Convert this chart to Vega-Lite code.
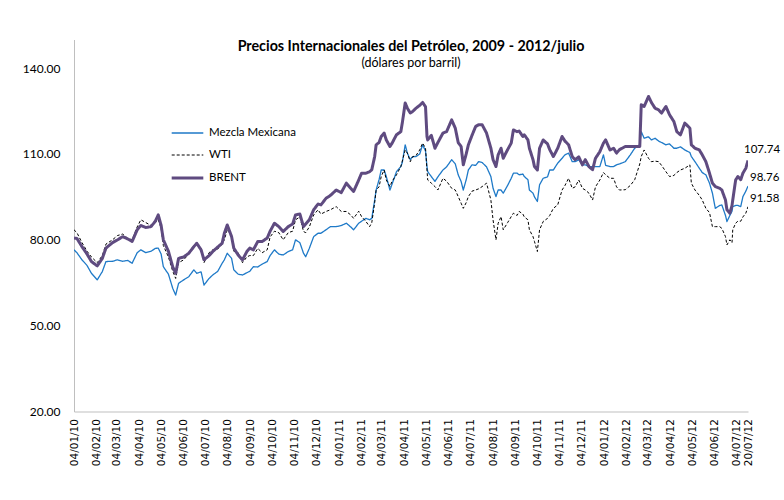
{
"$schema":"https://vega.github.io/schema/vega-lite/v6.json",
"width":674,"height":372,
"autosize":{"type":"none"},
"padding":{"left":74,"top":39.5,"right":36,"bottom":88.5},
"background":"white",
"config":{"view":{"stroke":null},"font":"Lato"},
"title":{"text":"Precios Internacionales del Petróleo, 2009 - 2012/julio","subtitle":"(dólares por barril)","font":"Lato","subtitleFont":"Lato","fontSize":14.3,"fontWeight":"bold","subtitleFontSize":12.5,"anchor":"middle","offset":-29.5,"subtitlePadding":2,"color":"black","subtitleColor":"black"},
"data":{"values":[
{"fecha":"2010-01-04","Mezcla Mexicana":76.5,"WTI":83.5,"BRENT":80.6},
{"fecha":"2010-01-08","Mezcla Mexicana":75.5,"WTI":82.5,"BRENT":80.5},
{"fecha":"2010-01-15","Mezcla Mexicana":73,"WTI":79,"BRENT":77.6},
{"fecha":"2010-01-22","Mezcla Mexicana":71,"WTI":76,"BRENT":75},
{"fecha":"2010-01-28","Mezcla Mexicana":68.3,"WTI":74,"BRENT":72.4},
{"fecha":"2010-02-05","Mezcla Mexicana":66,"WTI":72,"BRENT":70.9},
{"fecha":"2010-02-12","Mezcla Mexicana":68.9,"WTI":74.5,"BRENT":73.5},
{"fecha":"2010-02-17","Mezcla Mexicana":72.4,"WTI":78.5,"BRENT":77.1},
{"fecha":"2010-02-26","Mezcla Mexicana":72.5,"WTI":80,"BRENT":79},
{"fecha":"2010-03-05","Mezcla Mexicana":73,"WTI":81.5,"BRENT":80},
{"fecha":"2010-03-12","Mezcla Mexicana":72.5,"WTI":82,"BRENT":81.1},
{"fecha":"2010-03-19","Mezcla Mexicana":72.8,"WTI":80.5,"BRENT":80.3},
{"fecha":"2010-03-25","Mezcla Mexicana":71.8,"WTI":80,"BRENT":79.4},
{"fecha":"2010-04-01","Mezcla Mexicana":75.5,"WTI":84.5,"BRENT":83.5},
{"fecha":"2010-04-06","Mezcla Mexicana":76.5,"WTI":87,"BRENT":85},
{"fecha":"2010-04-13","Mezcla Mexicana":75.5,"WTI":86,"BRENT":84.3},
{"fecha":"2010-04-20","Mezcla Mexicana":76,"WTI":85,"BRENT":84.6},
{"fecha":"2010-04-26","Mezcla Mexicana":77,"WTI":86,"BRENT":86.5},
{"fecha":"2010-04-30","Mezcla Mexicana":77.1,"WTI":87,"BRENT":88.7},
{"fecha":"2010-05-04","Mezcla Mexicana":75,"WTI":84,"BRENT":85},
{"fecha":"2010-05-07","Mezcla Mexicana":70.6,"WTI":78,"BRENT":80},
{"fecha":"2010-05-14","Mezcla Mexicana":68,"WTI":74,"BRENT":76},
{"fecha":"2010-05-20","Mezcla Mexicana":63,"WTI":69,"BRENT":70.5},
{"fecha":"2010-05-24","Mezcla Mexicana":60.7,"WTI":66.5,"BRENT":68.3},
{"fecha":"2010-05-28","Mezcla Mexicana":64.8,"WTI":72,"BRENT":73.5},
{"fecha":"2010-06-04","Mezcla Mexicana":66,"WTI":73,"BRENT":74},
{"fecha":"2010-06-11","Mezcla Mexicana":67.1,"WTI":75,"BRENT":75.3},
{"fecha":"2010-06-18","Mezcla Mexicana":69.5,"WTI":78,"BRENT":77.6},
{"fecha":"2010-06-22","Mezcla Mexicana":68.3,"WTI":78.5,"BRENT":78.8},
{"fecha":"2010-06-28","Mezcla Mexicana":68.8,"WTI":77,"BRENT":76.5},
{"fecha":"2010-07-02","Mezcla Mexicana":64.2,"WTI":72,"BRENT":73},
{"fecha":"2010-07-09","Mezcla Mexicana":66.5,"WTI":75.5,"BRENT":74.5},
{"fecha":"2010-07-14","Mezcla Mexicana":67.7,"WTI":76.5,"BRENT":75.9},
{"fecha":"2010-07-21","Mezcla Mexicana":69,"WTI":76.8,"BRENT":77.5},
{"fecha":"2010-07-27","Mezcla Mexicana":71.8,"WTI":78.5,"BRENT":78.8},
{"fecha":"2010-07-30","Mezcla Mexicana":73,"WTI":80,"BRENT":82.3},
{"fecha":"2010-08-03","Mezcla Mexicana":75.3,"WTI":83.5,"BRENT":85.2},
{"fecha":"2010-08-09","Mezcla Mexicana":73.5,"WTI":81.5,"BRENT":81.1},
{"fecha":"2010-08-12","Mezcla Mexicana":69.5,"WTI":76,"BRENT":77.1},
{"fecha":"2010-08-18","Mezcla Mexicana":68,"WTI":75.5,"BRENT":74.7},
{"fecha":"2010-08-24","Mezcla Mexicana":67.7,"WTI":72,"BRENT":73},
{"fecha":"2010-08-30","Mezcla Mexicana":68.5,"WTI":74,"BRENT":75.9},
{"fecha":"2010-09-03","Mezcla Mexicana":69,"WTI":74.5,"BRENT":77.1},
{"fecha":"2010-09-08","Mezcla Mexicana":70.6,"WTI":74.5,"BRENT":76.5},
{"fecha":"2010-09-14","Mezcla Mexicana":70.5,"WTI":77,"BRENT":79.4},
{"fecha":"2010-09-20","Mezcla Mexicana":71.5,"WTI":75.5,"BRENT":79.4},
{"fecha":"2010-09-27","Mezcla Mexicana":72.4,"WTI":76.5,"BRENT":80.6},
{"fecha":"2010-10-01","Mezcla Mexicana":74.5,"WTI":81,"BRENT":83},
{"fecha":"2010-10-07","Mezcla Mexicana":76.5,"WTI":83,"BRENT":85.8},
{"fecha":"2010-10-13","Mezcla Mexicana":75,"WTI":82.5,"BRENT":84.6},
{"fecha":"2010-10-19","Mezcla Mexicana":74.7,"WTI":80,"BRENT":82.9},
{"fecha":"2010-10-26","Mezcla Mexicana":75.9,"WTI":82.5,"BRENT":84.6},
{"fecha":"2010-11-01","Mezcla Mexicana":76.5,"WTI":83,"BRENT":85.5},
{"fecha":"2010-11-05","Mezcla Mexicana":80,"WTI":87,"BRENT":88.7},
{"fecha":"2010-11-11","Mezcla Mexicana":79,"WTI":88,"BRENT":89},
{"fecha":"2010-11-16","Mezcla Mexicana":75.3,"WTI":82.9,"BRENT":84.6},
{"fecha":"2010-11-19","Mezcla Mexicana":74.1,"WTI":82.5,"BRENT":85.5},
{"fecha":"2010-11-24","Mezcla Mexicana":77,"WTI":84.5,"BRENT":87},
{"fecha":"2010-11-30","Mezcla Mexicana":81.1,"WTI":88.7,"BRENT":90.5},
{"fecha":"2010-12-06","Mezcla Mexicana":82.3,"WTI":90.5,"BRENT":92.5},
{"fecha":"2010-12-10","Mezcla Mexicana":82.3,"WTI":89,"BRENT":92.2},
{"fecha":"2010-12-17","Mezcla Mexicana":83.5,"WTI":89.9,"BRENT":94.5},
{"fecha":"2010-12-23","Mezcla Mexicana":84.6,"WTI":90.5,"BRENT":95.5},
{"fecha":"2010-12-31","Mezcla Mexicana":84.6,"WTI":91.6,"BRENT":97.4},
{"fecha":"2011-01-07","Mezcla Mexicana":85,"WTI":89.9,"BRENT":96.5},
{"fecha":"2011-01-14","Mezcla Mexicana":85.8,"WTI":89.9,"BRENT":99.8},
{"fecha":"2011-01-20","Mezcla Mexicana":84.5,"WTI":88.7,"BRENT":98},
{"fecha":"2011-01-24","Mezcla Mexicana":83.5,"WTI":87.5,"BRENT":96.9},
{"fecha":"2011-01-31","Mezcla Mexicana":85.8,"WTI":90,"BRENT":100.9},
{"fecha":"2011-02-04","Mezcla Mexicana":86.5,"WTI":88.1,"BRENT":103.3},
{"fecha":"2011-02-10","Mezcla Mexicana":87.5,"WTI":86.4,"BRENT":103.3},
{"fecha":"2011-02-15","Mezcla Mexicana":87,"WTI":84.6,"BRENT":103.8},
{"fecha":"2011-02-18","Mezcla Mexicana":87.5,"WTI":86,"BRENT":104.5},
{"fecha":"2011-02-22","Mezcla Mexicana":93.9,"WTI":93,"BRENT":109.1},
{"fecha":"2011-02-24","Mezcla Mexicana":97.4,"WTI":97.4,"BRENT":113.2},
{"fecha":"2011-02-28","Mezcla Mexicana":101,"WTI":98.5,"BRENT":114},
{"fecha":"2011-03-03","Mezcla Mexicana":104.4,"WTI":102.1,"BRENT":116.1},
{"fecha":"2011-03-07","Mezcla Mexicana":104.4,"WTI":104.4,"BRENT":117.3},
{"fecha":"2011-03-10","Mezcla Mexicana":102.1,"WTI":100.9,"BRENT":114.9},
{"fecha":"2011-03-15","Mezcla Mexicana":97.4,"WTI":98.6,"BRENT":112.6},
{"fecha":"2011-03-18","Mezcla Mexicana":99.5,"WTI":100.5,"BRENT":113.8},
{"fecha":"2011-03-24","Mezcla Mexicana":103.8,"WTI":102.7,"BRENT":116.7},
{"fecha":"2011-03-30","Mezcla Mexicana":105.6,"WTI":105.6,"BRENT":117.8},
{"fecha":"2011-04-01","Mezcla Mexicana":107,"WTI":107.5,"BRENT":120.8},
{"fecha":"2011-04-05","Mezcla Mexicana":113.2,"WTI":111.4,"BRENT":127.8},
{"fecha":"2011-04-08","Mezcla Mexicana":110.3,"WTI":110.3,"BRENT":126},
{"fecha":"2011-04-12","Mezcla Mexicana":108,"WTI":107.3,"BRENT":124.3},
{"fecha":"2011-04-15","Mezcla Mexicana":109,"WTI":109,"BRENT":124.8},
{"fecha":"2011-04-20","Mezcla Mexicana":109.1,"WTI":109.5,"BRENT":126},
{"fecha":"2011-04-25","Mezcla Mexicana":110,"WTI":111.4,"BRENT":127},
{"fecha":"2011-04-29","Mezcla Mexicana":113.2,"WTI":113.8,"BRENT":128},
{"fecha":"2011-05-03","Mezcla Mexicana":111,"WTI":112,"BRENT":126.5},
{"fecha":"2011-05-05","Mezcla Mexicana":105.6,"WTI":104.4,"BRENT":116.1},
{"fecha":"2011-05-06","Mezcla Mexicana":103.8,"WTI":100.9,"BRENT":114.9},
{"fecha":"2011-05-11","Mezcla Mexicana":102.1,"WTI":99.8,"BRENT":116.5},
{"fecha":"2011-05-16","Mezcla Mexicana":100.4,"WTI":98.6,"BRENT":112},
{"fecha":"2011-05-20","Mezcla Mexicana":102,"WTI":97.4,"BRENT":114},
{"fecha":"2011-05-27","Mezcla Mexicana":104.4,"WTI":101.5,"BRENT":117.3},
{"fecha":"2011-06-01","Mezcla Mexicana":105.5,"WTI":100.5,"BRENT":117.8},
{"fecha":"2011-06-08","Mezcla Mexicana":108,"WTI":98,"BRENT":121.9},
{"fecha":"2011-06-13","Mezcla Mexicana":106.5,"WTI":97.4,"BRENT":119},
{"fecha":"2011-06-17","Mezcla Mexicana":102.7,"WTI":95.1,"BRENT":114},
{"fecha":"2011-06-21","Mezcla Mexicana":100.4,"WTI":92.8,"BRENT":112.6},
{"fecha":"2011-06-24","Mezcla Mexicana":97.4,"WTI":91,"BRENT":106.2},
{"fecha":"2011-06-28","Mezcla Mexicana":101,"WTI":93,"BRENT":110},
{"fecha":"2011-07-01","Mezcla Mexicana":104.4,"WTI":95.1,"BRENT":113.2},
{"fecha":"2011-07-06","Mezcla Mexicana":106.2,"WTI":97,"BRENT":116.5},
{"fecha":"2011-07-11","Mezcla Mexicana":106,"WTI":97.4,"BRENT":119.6},
{"fecha":"2011-07-15","Mezcla Mexicana":107.3,"WTI":97.8,"BRENT":120.2},
{"fecha":"2011-07-20","Mezcla Mexicana":107,"WTI":98.6,"BRENT":120.2},
{"fecha":"2011-07-26","Mezcla Mexicana":105.5,"WTI":99.8,"BRENT":117.3},
{"fecha":"2011-08-01","Mezcla Mexicana":102.1,"WTI":93.9,"BRENT":112},
{"fecha":"2011-08-04","Mezcla Mexicana":98,"WTI":86.9,"BRENT":108},
{"fecha":"2011-08-08","Mezcla Mexicana":95.1,"WTI":80,"BRENT":105.6},
{"fecha":"2011-08-11","Mezcla Mexicana":97.4,"WTI":85.8,"BRENT":109.7},
{"fecha":"2011-08-15","Mezcla Mexicana":97.4,"WTI":88.1,"BRENT":112},
{"fecha":"2011-08-18","Mezcla Mexicana":96.3,"WTI":83.5,"BRENT":108.5},
{"fecha":"2011-08-24","Mezcla Mexicana":99,"WTI":86,"BRENT":111.5},
{"fecha":"2011-08-29","Mezcla Mexicana":101.5,"WTI":88.1,"BRENT":113.8},
{"fecha":"2011-09-01","Mezcla Mexicana":103.3,"WTI":89.3,"BRENT":118.4},
{"fecha":"2011-09-06","Mezcla Mexicana":103.3,"WTI":88.5,"BRENT":117.8},
{"fecha":"2011-09-09","Mezcla Mexicana":102.7,"WTI":89.9,"BRENT":118},
{"fecha":"2011-09-14","Mezcla Mexicana":103,"WTI":89,"BRENT":116.1},
{"fecha":"2011-09-16","Mezcla Mexicana":102.1,"WTI":88,"BRENT":116.7},
{"fecha":"2011-09-21","Mezcla Mexicana":101,"WTI":87,"BRENT":114.9},
{"fecha":"2011-09-23","Mezcla Mexicana":97.4,"WTI":83.5,"BRENT":112},
{"fecha":"2011-09-28","Mezcla Mexicana":96.3,"WTI":81.1,"BRENT":108},
{"fecha":"2011-09-30","Mezcla Mexicana":95,"WTI":79.4,"BRENT":105.6},
{"fecha":"2011-10-04","Mezcla Mexicana":93.4,"WTI":75.9,"BRENT":104.4},
{"fecha":"2011-10-07","Mezcla Mexicana":99.2,"WTI":83.5,"BRENT":112},
{"fecha":"2011-10-12","Mezcla Mexicana":101.5,"WTI":86.4,"BRENT":114.9},
{"fecha":"2011-10-18","Mezcla Mexicana":102,"WTI":87.5,"BRENT":113.5},
{"fecha":"2011-10-21","Mezcla Mexicana":104.4,"WTI":88.5,"BRENT":111.5},
{"fecha":"2011-10-26","Mezcla Mexicana":104.4,"WTI":91,"BRENT":109.1},
{"fecha":"2011-11-01","Mezcla Mexicana":106.8,"WTI":92.2,"BRENT":112},
{"fecha":"2011-11-07","Mezcla Mexicana":108.5,"WTI":97.4,"BRENT":116.1},
{"fecha":"2011-11-11","Mezcla Mexicana":109.7,"WTI":99,"BRENT":114.5},
{"fecha":"2011-11-16","Mezcla Mexicana":110.3,"WTI":101.5,"BRENT":113.2},
{"fecha":"2011-11-21","Mezcla Mexicana":107.3,"WTI":98,"BRENT":109.1},
{"fecha":"2011-11-25","Mezcla Mexicana":107.3,"WTI":98.5,"BRENT":108},
{"fecha":"2011-11-30","Mezcla Mexicana":108,"WTI":100.9,"BRENT":109},
{"fecha":"2011-12-05","Mezcla Mexicana":106.2,"WTI":98,"BRENT":106.2},
{"fecha":"2011-12-09","Mezcla Mexicana":106.2,"WTI":97.4,"BRENT":108},
{"fecha":"2011-12-14","Mezcla Mexicana":105.6,"WTI":96.3,"BRENT":105.6},
{"fecha":"2011-12-19","Mezcla Mexicana":105.6,"WTI":93.9,"BRENT":104.5},
{"fecha":"2011-12-23","Mezcla Mexicana":105.6,"WTI":98.5,"BRENT":108.5},
{"fecha":"2011-12-29","Mezcla Mexicana":105.6,"WTI":100.9,"BRENT":110.8},
{"fecha":"2012-01-03","Mezcla Mexicana":109.7,"WTI":103.5,"BRENT":113.8},
{"fecha":"2012-01-06","Mezcla Mexicana":106,"WTI":102.7,"BRENT":114.9},
{"fecha":"2012-01-12","Mezcla Mexicana":105.6,"WTI":101.5,"BRENT":111.4},
{"fecha":"2012-01-17","Mezcla Mexicana":105.6,"WTI":101.5,"BRENT":112},
{"fecha":"2012-01-21","Mezcla Mexicana":106.2,"WTI":98.5,"BRENT":110.3},
{"fecha":"2012-01-25","Mezcla Mexicana":106.5,"WTI":97.4,"BRENT":111.5},
{"fecha":"2012-02-02","Mezcla Mexicana":107.3,"WTI":97.5,"BRENT":112.6},
{"fecha":"2012-02-09","Mezcla Mexicana":109.7,"WTI":99,"BRENT":112.6},
{"fecha":"2012-02-15","Mezcla Mexicana":112,"WTI":101,"BRENT":112.6},
{"fecha":"2012-02-22","Mezcla Mexicana":113.2,"WTI":106.5,"BRENT":112.6},
{"fecha":"2012-02-24","Mezcla Mexicana":117.8,"WTI":109.1,"BRENT":127.2},
{"fecha":"2012-02-28","Mezcla Mexicana":115.5,"WTI":111.4,"BRENT":126.6},
{"fecha":"2012-03-05","Mezcla Mexicana":116,"WTI":108.5,"BRENT":130.1},
{"fecha":"2012-03-09","Mezcla Mexicana":114.9,"WTI":107.3,"BRENT":128},
{"fecha":"2012-03-14","Mezcla Mexicana":115.5,"WTI":107.5,"BRENT":126},
{"fecha":"2012-03-19","Mezcla Mexicana":114.5,"WTI":107.3,"BRENT":125.4},
{"fecha":"2012-03-23","Mezcla Mexicana":114,"WTI":106,"BRENT":124.3},
{"fecha":"2012-03-29","Mezcla Mexicana":113.2,"WTI":103.8,"BRENT":126.6},
{"fecha":"2012-04-03","Mezcla Mexicana":113.5,"WTI":102.1,"BRENT":123.7},
{"fecha":"2012-04-09","Mezcla Mexicana":112,"WTI":102.5,"BRENT":121.3},
{"fecha":"2012-04-13","Mezcla Mexicana":112,"WTI":103.5,"BRENT":117.8},
{"fecha":"2012-04-18","Mezcla Mexicana":112.5,"WTI":104.4,"BRENT":116.7},
{"fecha":"2012-04-24","Mezcla Mexicana":111.4,"WTI":105,"BRENT":120.8},
{"fecha":"2012-05-01","Mezcla Mexicana":110.5,"WTI":106.2,"BRENT":119},
{"fecha":"2012-05-03","Mezcla Mexicana":109.1,"WTI":99.8,"BRENT":113.2},
{"fecha":"2012-05-08","Mezcla Mexicana":107.3,"WTI":97.4,"BRENT":112},
{"fecha":"2012-05-14","Mezcla Mexicana":105,"WTI":95.5,"BRENT":111.4},
{"fecha":"2012-05-18","Mezcla Mexicana":103.5,"WTI":93.9,"BRENT":109.7},
{"fecha":"2012-05-23","Mezcla Mexicana":102.7,"WTI":91,"BRENT":107.3},
{"fecha":"2012-05-28","Mezcla Mexicana":99.8,"WTI":89.5,"BRENT":103.3},
{"fecha":"2012-06-01","Mezcla Mexicana":96.3,"WTI":84.6,"BRENT":99.8},
{"fecha":"2012-06-05","Mezcla Mexicana":91,"WTI":84.6,"BRENT":98.6},
{"fecha":"2012-06-11","Mezcla Mexicana":92,"WTI":84.6,"BRENT":98},
{"fecha":"2012-06-14","Mezcla Mexicana":92.2,"WTI":84,"BRENT":97.4},
{"fecha":"2012-06-19","Mezcla Mexicana":88.5,"WTI":81.1,"BRENT":93.9},
{"fecha":"2012-06-21","Mezcla Mexicana":86.4,"WTI":78.2,"BRENT":90.5},
{"fecha":"2012-06-25","Mezcla Mexicana":88.5,"WTI":80,"BRENT":89.3},
{"fecha":"2012-06-28","Mezcla Mexicana":90,"WTI":79,"BRENT":92},
{"fecha":"2012-06-29","Mezcla Mexicana":91.6,"WTI":83.5,"BRENT":93.9},
{"fecha":"2012-07-03","Mezcla Mexicana":92,"WTI":85.8,"BRENT":100.9},
{"fecha":"2012-07-06","Mezcla Mexicana":92,"WTI":86.5,"BRENT":102.1},
{"fecha":"2012-07-10","Mezcla Mexicana":91.6,"WTI":86.5,"BRENT":101},
{"fecha":"2012-07-13","Mezcla Mexicana":95.1,"WTI":88,"BRENT":103.3},
{"fecha":"2012-07-17","Mezcla Mexicana":97,"WTI":89.3,"BRENT":105},
{"fecha":"2012-07-20","Mezcla Mexicana":98.76,"WTI":91.58,"BRENT":107.74}
]},
"transform":[{"fold":["Mezcla Mexicana","WTI","BRENT"],"as":["serie","valor"]}],
"encoding":{
"x":{"field":"fecha","type":"temporal","scale":{"type":"utc","domain":[{"year":2010,"month":1,"date":4,"utc":true},{"year":2012,"month":7,"date":20,"utc":true}]},
"axis":{"title":null,"grid":false,"ticks":false,"domainColor":"#bfbfbf","labelAngle":270,"labelFont":"DejaVu Sans","labelFontSize":10.5,"labelColor":"black","labelPadding":7,"labelOverlap":false,"labelSeparation":-8,"labelFlush":false,"labelBound":false,"format":"%d/%m/%y",
"values":[{"year":2010,"month":1,"date":4,"utc":true},{"year":2010,"month":2,"date":4,"utc":true},{"year":2010,"month":3,"date":4,"utc":true},{"year":2010,"month":4,"date":4,"utc":true},{"year":2010,"month":5,"date":4,"utc":true},{"year":2010,"month":6,"date":4,"utc":true},{"year":2010,"month":7,"date":4,"utc":true},{"year":2010,"month":8,"date":4,"utc":true},{"year":2010,"month":9,"date":4,"utc":true},{"year":2010,"month":10,"date":4,"utc":true},{"year":2010,"month":11,"date":4,"utc":true},{"year":2010,"month":12,"date":4,"utc":true},{"year":2011,"month":1,"date":4,"utc":true},{"year":2011,"month":2,"date":4,"utc":true},{"year":2011,"month":3,"date":4,"utc":true},{"year":2011,"month":4,"date":4,"utc":true},{"year":2011,"month":5,"date":4,"utc":true},{"year":2011,"month":6,"date":4,"utc":true},{"year":2011,"month":7,"date":4,"utc":true},{"year":2011,"month":8,"date":4,"utc":true},{"year":2011,"month":9,"date":4,"utc":true},{"year":2011,"month":10,"date":4,"utc":true},{"year":2011,"month":11,"date":4,"utc":true},{"year":2011,"month":12,"date":4,"utc":true},{"year":2012,"month":1,"date":4,"utc":true},{"year":2012,"month":2,"date":4,"utc":true},{"year":2012,"month":3,"date":4,"utc":true},{"year":2012,"month":4,"date":4,"utc":true},{"year":2012,"month":5,"date":4,"utc":true},{"year":2012,"month":6,"date":4,"utc":true},{"year":2012,"month":7,"date":4,"utc":true},{"year":2012,"month":7,"date":20,"utc":true}]}},
"y":{"field":"valor","type":"quantitative","scale":{"domain":[20,150],"nice":false,"zero":false},
"axis":{"title":null,"grid":false,"ticks":false,"domainColor":"#bfbfbf","values":[20,50,80,110,140],"format":".2f","labelFont":"Lato","labelFontSize":12,"labelColor":"black","labelPadding":14}},
"color":{"field":"serie","type":"nominal","scale":{"domain":["Mezcla Mexicana","WTI","BRENT"],"range":["#1f7ac8","#000000","#5f4b80"]},
"legend":{"title":null,"orient":"none","legendX":96,"legendY":77,"symbolType":"stroke","symbolSize":1000,"rowPadding":-8,"labelFont":"Lato","labelFontSize":11.5,"labelColor":"black","labelOffset":4}},
"strokeDash":{"field":"serie","type":"nominal","scale":{"domain":["Mezcla Mexicana","WTI","BRENT"],"range":[[1,0],[3,2],[1,0]]}},
"strokeWidth":{"field":"serie","type":"nominal","scale":{"type":"ordinal","domain":["Mezcla Mexicana","WTI","BRENT"],"range":[1.3,1,3]}}
},
"layer":[
{"mark":{"type":"line","strokeJoin":"round","clip":true}},
{"data":{"values":[{"fecha":"2012-07-20","valor":107.74,"serie":"BRENT","etiqueta":"107.74"}]},
"mark":{"type":"text","align":"left","baseline":"middle","dx":-4,"dy":-10,"font":"Lato","fontSize":11.5},
"encoding":{"text":{"field":"etiqueta"},"color":{"value":"black"}}},
{"data":{"values":[{"fecha":"2012-07-20","valor":98.76,"serie":"Mezcla Mexicana","etiqueta":"98.76"},{"fecha":"2012-07-20","valor":91.58,"serie":"WTI","etiqueta":"91.58"}]},
"mark":{"type":"text","align":"left","baseline":"middle","dx":2,"dy":-8,"font":"Lato","fontSize":11.5},
"encoding":{"text":{"field":"etiqueta"},"color":{"value":"black"}}}
]
}
